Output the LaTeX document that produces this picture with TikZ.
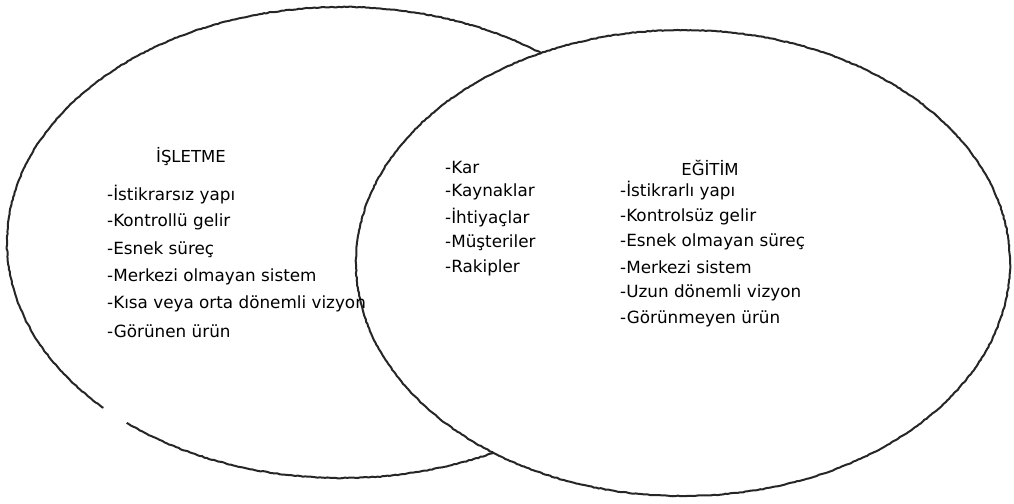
\documentclass[tikz,border=0pt]{standalone}
\usepackage{fontspec}
\setmainfont{DejaVu Sans}
\usetikzlibrary{decorations.pathmorphing}

\begin{document}
\begin{tikzpicture}[x=1pt,y=-1pt,
  rim/.style={draw=black!85,line width=2pt,decorate,
    decoration={random steps,segment length=2.5pt,amplitude=0.4pt}},
  title/.style={font=\fontsize{16.5}{18}\selectfont,inner sep=0pt},
  item/.style={font=\fontsize{16.8}{18}\selectfont,inner sep=0pt,anchor=west}]
  \pgfmathsetseed{7}
  \useasboundingbox (0,0) rectangle (1014,503);

  % left ellipse, open at the lower left
  \coordinate (cL) at (342,242.5);
  \draw[rim] ([shift={(230:335pt and 235.5pt)}]cL)
    arc[start angle=230,end angle=584.5,x radius=335pt,y radius=235.5pt];

  % right ellipse lies on top
  \coordinate (cR) at (683,263);
  \draw[rim,fill=white] (cR) ellipse[x radius=327pt,y radius=233pt];

  \node[title] (isletme) at (191,157) {İŞLETME};
  \foreach \t [count=\i] in {-İstikrarsız yapı,-Kontrollü gelir,-Esnek süreç,
      -Merkezi olmayan sistem,-Kısa veya orta dönemli vizyon,-Görünen ürün}
    \node[item] (isl\i) at (107,167.8+27.2*\i) {\t};

  \foreach \t [count=\i] in {-Kar,-Kaynaklar,-İhtiyaçlar,-Müşteriler,-Rakipler}
    \node[item] (ort\i) at (445,141.7+25.3*\i) {\t};

  \node[title] (egitim) at (710,168) {EĞİTİM};
  \foreach \t [count=\i] in {-İstikrarlı yapı,-Kontrolsüz gelir,
      -Esnek olmayan süreç,-Merkezi sistem,-Uzun dönemli vizyon,-Görünmeyen ürün}
    \node[item] (egt\i) at (620,165.5+25.5*\i) {\t};
\end{tikzpicture}
\end{document}
